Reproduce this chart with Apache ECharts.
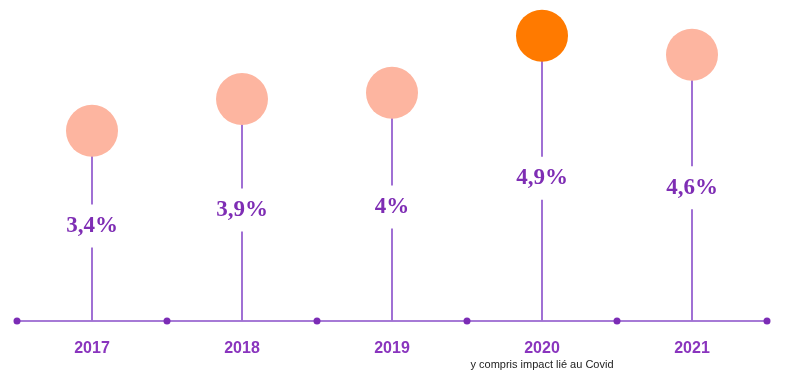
<!DOCTYPE html>
<html>
<head>
<meta charset="utf-8">
<script src="https://cdn.jsdelivr.net/npm/echarts@6/dist/echarts.min.js"></script>
<style>html,body{margin:0;padding:0;background:#fff;}#c{width:801px;height:386px;}</style>
</head>
<body>
<div id="c"></div>
<script>
const categories = ['2017', '2018', '2019', '2020', '2021'];
const values = [3.4, 3.9, 4.0, 4.9, 4.6];
const circleColors = ['#FDB5A0', '#FDB5A0', '#FDB5A0', '#FF7A00', '#FDB5A0'];
const notes = ['', '', '', 'y compris impact lié au Covid', ''];

const yMin = 0.4, yMax = 5.4;
const chart = echarts.init(document.getElementById('c'));
const boundaryDots = [];
for (let i = 0; i <= categories.length; i++) boundaryDots.push([i, yMin]);

chart.setOption({
  animation: false,
  grid: { left: 17, right: 34, top: 4, bottom: 65, containLabel: false },
  xAxis: [{
    type: 'category',
    data: categories,
    axisLine: { lineStyle: { color: '#A67AD6', width: 2 } },
    axisTick: { show: false },
    axisLabel: {
      interval: 0,
      margin: 18,
      formatter: function (v, i) {
        return notes[i] ? '{a|' + v + '}\n{b|' + notes[i] + '}' : '{a|' + v + '}';
      },
      rich: {
        a: { fontFamily: 'Arial, Liberation Sans, sans-serif', fontWeight: 'bold', fontSize: 16, color: '#8A35BE', lineHeight: 20 },
        b: { fontFamily: 'Arial, Liberation Sans, sans-serif', fontSize: 11, color: '#222', lineHeight: 12 }
      }
    }
  }, {
    type: 'value', min: 0, max: categories.length, show: false
  }],
  yAxis: { type: 'value', min: yMin, max: yMax, show: false },
  series: [{
    type: 'bar',
    data: values,
    barWidth: 2,
    itemStyle: { color: '#A070D4' },
    label: {
      show: true,
      position: 'inside',
      formatter: function (p) { return String(p.value).replace('.', ',') + '%'; },
      fontFamily: 'Liberation Serif, Times New Roman, serif',
      fontWeight: 'bold',
      fontSize: 23,
      color: '#7E2DB4',
      backgroundColor: '#fff',
      padding: [10, 4]
    },
    z: 2
  }, {
    type: 'scatter',
    data: values.map(function (v, i) { return { value: v, itemStyle: { color: circleColors[i], opacity: 1 } }; }),
    symbolSize: 52,
    itemStyle: { opacity: 1 },
    z: 3
  }, {
    type: 'scatter',
    xAxisIndex: 1,
    data: boundaryDots,
    symbolSize: 7,
    itemStyle: { color: '#7B2CB5', opacity: 1 },
    z: 4
  }]
});
</script>
</body>
</html>
